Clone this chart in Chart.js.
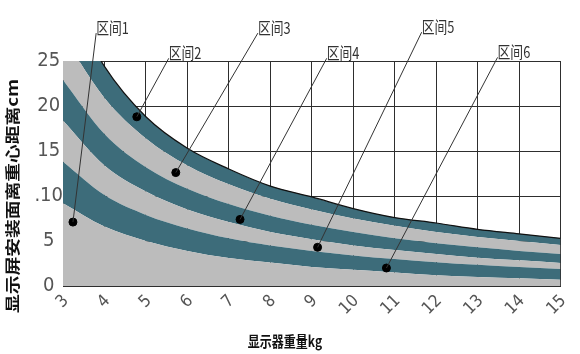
<!DOCTYPE html>
<html>
<head>
<meta charset="utf-8">
<script src="https://cdn.jsdelivr.net/npm/chart.js@4.4.1/dist/chart.umd.min.js"></script>
<style>
html, body { margin: 0; padding: 0; background: #fff; }
</style>
</head>
<body>
<canvas id="graph" width="580" height="354"></canvas>
<script>
// display weight (kg) and band edges (cm)
const weights = [3, 4, 5, 6, 7, 8, 9, 10, 11, 12, 13, 14, 15];
const edge1 = [9.2, 6.6, 5.0, 3.9, 3.1, 2.6, 2.1, 1.8, 1.5, 1.2, 1.0, 0.85, 0.7];
const edge2 = [13.8, 10.1, 7.9, 6.4, 5.3, 4.5, 3.9, 3.4, 3.0, 2.65, 2.35, 2.1, 1.9];
const edge3 = [18.4, 13.4, 10.5, 8.5, 7.1, 6.0, 5.2, 4.5, 4.0, 3.55, 3.15, 2.85, 2.55];
const edge4 = [22.9, 16.9, 13.2, 10.8, 9.1, 7.8, 6.8, 6.0, 5.3, 4.75, 4.3, 3.9, 3.55];
const edge5 = [27.8, 20.9, 16.4, 13.4, 11.3, 9.7, 8.5, 7.5, 6.7, 6.0, 5.45, 5.0, 4.55];
const edge6 = [33.0, 24.4, 18.8, 15.3, 13.0, 11.1, 9.9, 8.6, 7.6, 7.0, 6.3, 5.8, 5.3];

// callouts: dot in each zone and where its label sits
const zoneNames = ['区间1', '区间2', '区间3', '区间4', '区间5', '区间6'];
const dotX = [3.24, 4.78, 5.72, 7.27, 9.14, 10.8];
const dotY = [7.1, 18.8, 12.6, 7.4, 4.3, 2.0];
const calloutX = [3.8, 5.55, 7.7, 9.36, 11.65, 13.48];
const calloutY = [28.1, 25.3, 28.1, 25.3, 28.2, 25.4];

const yTickText = { 0: '0', 5: '5', 10: '.10', 15: '15', 20: '20', 25: '25' };

const GRAY = '#bcbcbc';
const TEAL = '#3d6c7a';
const GRID = '#2e2e2e';

const pts = arr => arr.map((v, i) => ({ x: weights[i], y: v }));

function band(edge, color, fill, extra) {
  return Object.assign({
    type: 'line',
    data: pts(edge),
    backgroundColor: color,
    borderWidth: 0,
    pointRadius: 0,
    fill: fill,
    cubicInterpolationMode: 'monotone',
    order: 2
  }, extra || {});
}

const callouts = {
  id: 'callouts',
  afterDraw(chart) {
    const { ctx } = chart;
    const sx = chart.scales.x, sy = chart.scales.y;
    ctx.save();
    ctx.strokeStyle = '#333';
    ctx.fillStyle = '#333';
    ctx.lineWidth = 1;
    ctx.font = '16px "Noto Sans CJK SC", sans-serif';
    ctx.textBaseline = 'bottom';
    ctx.textAlign = 'left';
    zoneNames.forEach((name, i) => {
      const x0 = sx.getPixelForValue(calloutX[i]);
      const y0 = sy.getPixelForValue(calloutY[i]);
      const x1 = sx.getPixelForValue(dotX[i]);
      const y1 = sy.getPixelForValue(dotY[i]);
      ctx.beginPath();
      ctx.moveTo(x0, y0);
      ctx.lineTo(x1, y1);
      ctx.stroke();
      ctx.save();
      ctx.translate(x0, y0 + 3);
      ctx.scale(0.8, 1);
      ctx.fillText(name, 0, 0);
      ctx.restore();
    });

    // axis titles
    ctx.fillStyle = '#111';
    ctx.textAlign = 'center';
    ctx.textBaseline = 'middle';
    ctx.font = 'bold 15px "Noto Sans CJK SC", sans-serif';
    ctx.save();
    ctx.translate(12, 196);
    ctx.rotate(-Math.PI / 2);
    ctx.scale(1.25, 1);
    ctx.fillText('显示屏安装面离重心距离cm', 0, 0);
    ctx.restore();

    ctx.save();
    ctx.translate(285, 341);
    ctx.scale(0.8, 1);
    ctx.fillText('显示器重量kg', 0, 0);
    ctx.restore();
    ctx.restore();
  }
};

new Chart(document.getElementById('graph'), {
  data: {
    datasets: [
      {
        type: 'scatter',
        data: dotX.map((v, i) => ({ x: v, y: dotY[i] })),
        backgroundColor: '#000',
        borderColor: '#000',
        pointRadius: 4,
        order: 0
      },
      band(edge1, GRAY, 'origin'),
      band(edge2, TEAL, '-1'),
      band(edge3, GRAY, '-1'),
      band(edge4, TEAL, '-1'),
      band(edge5, GRAY, '-1'),
      band(edge6, TEAL, '-1', { borderWidth: 1.2, borderColor: '#111' })
    ]
  },
  options: {
    responsive: false,
    devicePixelRatio: 1,
    animation: false,
    layout: { padding: { left: 0, top: 61, right: 19, bottom: 0 } },
    plugins: { legend: { display: false }, tooltip: { enabled: false } },
    scales: {
      x: {
        type: 'linear',
        min: 3,
        max: 15,
        z: 1,
        afterFit: s => { s.height = 68; },
        grid: { color: GRID, lineWidth: 1, drawTicks: false },
        border: { color: GRID },
        ticks: {
          stepSize: 1,
          minRotation: 45,
          maxRotation: 45,
          padding: 5,
          labelOffset: 3,
          color: '#555',
          font: { family: '"Liberation Sans Narrow", "DejaVu Sans Condensed", sans-serif', size: 17 }
        }
      },
      y: {
        type: 'linear',
        min: 0,
        max: 25,
        z: 1,
        afterFit: s => { s.width = 63; },
        grid: { color: GRID, lineWidth: 1, drawTicks: false },
        border: { color: GRID },
        ticks: {
          stepSize: 5,
          padding: 0,
          crossAlign: 'center',
          color: '#555',
          font: { family: '"Liberation Sans Narrow", "DejaVu Sans Condensed", sans-serif', size: 20 },
          callback: v => yTickText[v]
        }
      }
    }
  },
  plugins: [callouts]
});
</script>
</body>
</html>
